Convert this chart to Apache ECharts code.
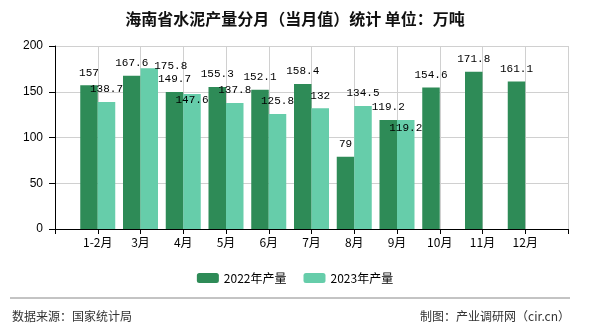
<!DOCTYPE html>
<html>
<head>
<meta charset="utf-8">
<script src="https://cdn.jsdelivr.net/npm/echarts@6/dist/echarts.min.js"></script>
<style>
html,body{margin:0;padding:0;background:#fff;}
#main{width:590px;height:330px;}
</style>
</head>
<body>
<div id="main"></div>
<script>
var categories = ['1-2月','3月','4月','5月','6月','7月','8月','9月','10月','11月','12月'];
var values2022 = [157,167.6,149.7,155.3,152.1,158.4,79,119.2,154.6,171.8,161.1];
var values2023 = [138.7,175.8,147.6,137.8,125.8,132,134.5,119.2,null,null,null];
var yTicks = [0,50,100,150,200];
var seriesNames = ['2022年产量','2023年产量'];

function pad(arr){ return [null].concat(arr).concat([null]); }

var chart = echarts.init(document.getElementById('main'));
var labelStyle = {
  show: true, position: 'top', distance: 7,
  fontFamily: 'Liberation Mono', fontSize: 11, color: '#000'
};
// shift a 2023 label when it would collide with the 2022 label of the same month
function avoidOverlap(params){
  var i = params.dataIndex - 1;
  var r = params.rect;
  if (i < 0 || values2023[i] == null || values2022[i] == null || !r.height) return {};
  var base = r.y + r.height;
  var darkTop = base - r.height * values2022[i] / values2023[i];
  var lightTop = r.y;
  var d = lightTop - darkTop;
  if (Math.abs(d) < 5) {
    return {dy: (darkTop + 21) - lightTop};
  }
  if (d < 0 && d > -10) {
    return {dx: r.width + 4, dy: (darkTop - lightTop) + 3};
  }
  return {};
}
chart.setOption({
  animation: false,
  title: {
    text: '海南省水泥产量分月（当月值）统计 单位：万吨',
    left: 'center', top: 6,
    textStyle: {fontFamily: 'Noto Sans CJK SC', fontSize: 16, fontWeight: 'bold', color: '#111'}
  },
  legend: {
    data: seriesNames, top: 267, left: 'center',
    itemWidth: 22, itemHeight: 10, itemGap: 17,
    textStyle: {fontFamily: 'Noto Sans CJK SC', fontSize: 12, color: '#000'}
  },
  grid: {left: 55, right: 22, top: 46, bottom: 101},
  xAxis: {
    type: 'category', boundaryGap: false,
    data: pad(categories).map(function(c){ return c === null ? '' : c; }),
    axisLine: {lineStyle: {color: '#000'}},
    axisTick: {show: true, length: 5, lineStyle: {color: '#000'}},
    axisLabel: {fontFamily: 'Noto Sans CJK SC', fontSize: 12, color: '#000', interval: 0, margin: 7},
    splitLine: {show: true, lineStyle: {color: '#d0d0d0'}}
  },
  yAxis: {
    type: 'value', min: yTicks[0], max: yTicks[yTicks.length-1], interval: 50,
    axisLine: {show: true, lineStyle: {color: '#000'}},
    axisTick: {show: true, length: 6, lineStyle: {color: '#000'}},
    axisLabel: {fontFamily: 'Liberation Sans', fontSize: 12, color: '#000', margin: 12},
    splitLine: {show: true, lineStyle: {color: '#d0d0d0'}}
  },
  series: [
    {name: seriesNames[0], type: 'bar', data: pad(values2022), barWidth: 17.5, barGap: '0%',
     itemStyle: {color: '#2E8B57'}, label: labelStyle},
    {name: seriesNames[1], type: 'bar', data: pad(values2023), barWidth: 17.5, barGap: '0%',
     itemStyle: {color: '#66CDAA'}, label: labelStyle, labelLayout: avoidOverlap}
  ],
  graphic: [
    {type: 'line', shape: {x1: 10, y1: 298, x2: 570, y2: 298}, style: {stroke: '#888', lineWidth: 1}},
    {type: 'text', left: 12, top: 310, style: {text: '数据来源：国家统计局', font: '12px "Noto Sans CJK SC"', fill: '#333'}},
    {type: 'text', right: 20, top: 310, style: {text: '制图：产业调研网（cir.cn）', font: '12px "Noto Sans CJK SC"', fill: '#333'}}
  ]
});
</script>
</body>
</html>
